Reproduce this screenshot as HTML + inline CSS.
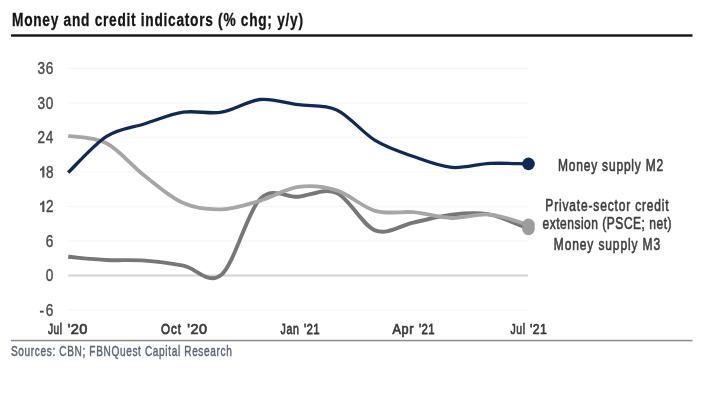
<!DOCTYPE html>
<html><head><meta charset="utf-8"><style>
html,body{margin:0;padding:0;background:#fff;width:708px;height:402px;overflow:hidden}
svg{display:block;font-family:"Liberation Sans", sans-serif;will-change:transform}
</style></head><body>
<svg width="708" height="402" viewBox="0 0 708 402">
<rect width="708" height="402" fill="#fff"/>
<g transform="translate(12.00,26.4) scale(0.78,1)"><text x="0" y="0" font-size="17.6" fill="#151515" stroke="#151515" stroke-width="0.3" font-weight="bold" textLength="373.08" lengthAdjust="spacing">Money and credit indicators (% chg; y/y)</text></g>
<rect x="11" y="34.3" width="681.5" height="2.4" fill="#161616"/>
<rect x="68.2" y="67.9" width="459.8" height="1.2" fill="#f5f5f5"/>
<rect x="68.2" y="102.4" width="459.8" height="1.2" fill="#f5f5f5"/>
<rect x="68.2" y="136.9" width="459.8" height="1.2" fill="#f5f5f5"/>
<rect x="68.2" y="171.4" width="459.8" height="1.2" fill="#f5f5f5"/>
<rect x="68.2" y="205.9" width="459.8" height="1.2" fill="#f5f5f5"/>
<rect x="68.2" y="240.4" width="459.8" height="1.2" fill="#f5f5f5"/>
<rect x="68.2" y="309.4" width="459.8" height="1.2" fill="#f5f5f5"/>
<rect x="68.2" y="274.5" width="459.8" height="2" fill="#d4d4d4"/>
<g transform="translate(37.40,74.0) scale(0.85,1)"><text x="0" y="0" font-size="16" fill="#4a4a4a" stroke="#4a4a4a" stroke-width="0.4" font-weight="normal" textLength="18.59" lengthAdjust="spacing">36</text></g>
<g transform="translate(37.40,108.5) scale(0.85,1)"><text x="0" y="0" font-size="16" fill="#4a4a4a" stroke="#4a4a4a" stroke-width="0.4" font-weight="normal" textLength="18.59" lengthAdjust="spacing">30</text></g>
<g transform="translate(37.40,143.0) scale(0.85,1)"><text x="0" y="0" font-size="16" fill="#4a4a4a" stroke="#4a4a4a" stroke-width="0.4" font-weight="normal" textLength="18.59" lengthAdjust="spacing">24</text></g>
<path d="M44.4 166.3 L44.4 177.5 L42.3 177.5 L42.3 169.7 Q41.3 170.5 40.0 170.9 L40.0 169.0 Q42.2 168.2 42.9 166.3 Z" fill="#505050"/>
<g transform="translate(46.10,177.5) scale(0.85,1)"><text x="0" y="0" font-size="16" fill="#4a4a4a" stroke="#4a4a4a" stroke-width="0.4" font-weight="normal" textLength="8.35" lengthAdjust="spacing">8</text></g>
<path d="M44.4 200.8 L44.4 212.0 L42.3 212.0 L42.3 204.2 Q41.3 205.0 40.0 205.4 L40.0 203.5 Q42.2 202.7 42.9 200.8 Z" fill="#505050"/>
<g transform="translate(46.10,212.0) scale(0.85,1)"><text x="0" y="0" font-size="16" fill="#4a4a4a" stroke="#4a4a4a" stroke-width="0.4" font-weight="normal" textLength="8.35" lengthAdjust="spacing">2</text></g>
<g transform="translate(45.80,246.5) scale(0.85,1)"><text x="0" y="0" font-size="16" fill="#4a4a4a" stroke="#4a4a4a" stroke-width="0.4" font-weight="normal" textLength="8.71" lengthAdjust="spacing">6</text></g>
<g transform="translate(45.80,281.0) scale(0.85,1)"><text x="0" y="0" font-size="16" fill="#4a4a4a" stroke="#4a4a4a" stroke-width="0.4" font-weight="normal" textLength="8.71" lengthAdjust="spacing">0</text></g>
<g transform="translate(39.60,315.5) scale(0.85,1)"><text x="0" y="0" font-size="16" fill="#4a4a4a" stroke="#4a4a4a" stroke-width="0.4" font-weight="normal" textLength="16.00" lengthAdjust="spacing">-6</text></g>
<g transform="translate(48.00,334) scale(0.6596000000000001,1)"><text x="0" y="0" font-size="15.4" fill="#3a3a3a" stroke="#3a3a3a" stroke-width="0.75" font-weight="normal" textLength="21.22" lengthAdjust="spacing">Jul</text></g>
<g transform="translate(67.50,334) scale(0.94575,1)"><text x="0" y="0" font-size="15.4" fill="#3a3a3a" stroke="#3a3a3a" stroke-width="0.75" font-weight="normal" textLength="21.04" lengthAdjust="spacing">'20</text></g>
<g transform="translate(161.00,334) scale(0.7566,1)"><text x="0" y="0" font-size="15.4" fill="#3a3a3a" stroke="#3a3a3a" stroke-width="0.75" font-weight="normal" textLength="26.30" lengthAdjust="spacing">Oct</text></g>
<g transform="translate(187.30,334) scale(0.9360499999999992,1)"><text x="0" y="0" font-size="15.4" fill="#3a3a3a" stroke="#3a3a3a" stroke-width="0.75" font-weight="normal" textLength="21.05" lengthAdjust="spacing">'20</text></g>
<g transform="translate(280.60,334) scale(0.6906399999999983,1)"><text x="0" y="0" font-size="15.4" fill="#3a3a3a" stroke="#3a3a3a" stroke-width="0.75" font-weight="normal" textLength="26.35" lengthAdjust="spacing">Jan</text></g>
<g transform="translate(303.90,334) scale(0.7420500000000005,1)"><text x="0" y="0" font-size="15.4" fill="#3a3a3a" stroke="#3a3a3a" stroke-width="0.75" font-weight="normal" textLength="21.16" lengthAdjust="spacing">'21</text></g>
<g transform="translate(392.60,334) scale(0.8244999999999991,1)"><text x="0" y="0" font-size="15.4" fill="#3a3a3a" stroke="#3a3a3a" stroke-width="0.75" font-weight="normal" textLength="25.23" lengthAdjust="spacing">Apr</text></g>
<g transform="translate(418.90,334) scale(0.7420500000000005,1)"><text x="0" y="0" font-size="15.4" fill="#3a3a3a" stroke="#3a3a3a" stroke-width="0.75" font-weight="normal" textLength="21.16" lengthAdjust="spacing">'21</text></g>
<g transform="translate(510.60,334) scale(0.6789999999999999,1)"><text x="0" y="0" font-size="15.4" fill="#3a3a3a" stroke="#3a3a3a" stroke-width="0.75" font-weight="normal" textLength="21.21" lengthAdjust="spacing">Jul</text></g>
<g transform="translate(530.00,334) scale(0.7953999999999989,1)"><text x="0" y="0" font-size="15.4" fill="#3a3a3a" stroke="#3a3a3a" stroke-width="0.75" font-weight="normal" textLength="21.12" lengthAdjust="spacing">'21</text></g>
<rect x="11" y="339.8" width="681.5" height="1.5" fill="#8a8a8a"/>
<g transform="translate(11.00,355.9) scale(0.72,1)"><text x="0" y="0" font-size="14" fill="#5c6479" stroke="#5c6479" stroke-width="0.45" font-weight="normal" textLength="306.67" lengthAdjust="spacing">Sources: CBN; FBNQuest Capital Research</text></g>
<path d="M68.2 256.8 C74.6 257.3 93.8 259.4 106.6 260.0 C119.3 260.6 132.1 259.6 144.9 260.6 C157.7 261.5 170.5 263.4 183.3 265.7 C196.1 268.1 208.8 285.8 221.6 274.6 C234.4 263.5 247.2 212.0 260.0 199.0 C272.8 186.0 285.6 197.7 298.3 196.7 C311.1 195.7 323.9 187.4 336.7 193.0 C349.5 198.6 362.3 225.4 375.1 230.4 C387.8 235.3 400.6 225.2 413.4 222.6 C426.2 220.0 439.0 215.9 451.8 214.6 C464.6 213.2 477.4 212.2 490.1 214.6 C502.9 216.9 522.1 226.5 528.5 228.9" fill="none" stroke="#777777" stroke-width="3.9" stroke-linecap="butt" stroke-linejoin="round"/>
<circle cx="528.5" cy="228.9" r="6.3" fill="#9c9c9c"/>
<path d="M68.2 135.8 C74.6 137.0 93.8 136.5 106.6 143.2 C119.3 150.0 132.1 166.1 144.9 176.0 C157.7 186.0 170.5 197.5 183.3 203.1 C196.1 208.6 208.8 209.8 221.6 209.4 C234.4 209.0 247.2 204.5 260.0 200.8 C272.8 197.0 285.6 188.7 298.3 186.9 C311.1 185.2 323.9 186.4 336.7 190.4 C349.5 194.4 362.3 207.2 375.1 210.8 C387.8 214.5 400.6 211.1 413.4 212.2 C426.2 213.4 439.0 217.6 451.8 218.0 C464.6 218.4 477.4 213.4 490.1 214.6 C502.9 215.7 522.1 223.2 528.5 224.9" fill="none" stroke="#a6a6a6" stroke-width="3.8" stroke-linecap="butt" stroke-linejoin="round"/>
<circle cx="528.5" cy="224.9" r="6.3" fill="#9c9c9c"/>
<path d="M68.2 172.6 C74.6 166.5 93.8 144.5 106.6 136.3 C119.3 128.2 132.1 127.7 144.9 123.7 C157.7 119.7 170.5 114.1 183.3 112.2 C196.1 110.3 208.8 114.3 221.6 112.2 C234.4 110.1 247.2 100.8 260.0 99.5 C272.8 98.3 285.6 103.0 298.3 104.7 C311.1 106.5 323.9 104.0 336.7 109.9 C349.5 115.8 362.3 132.6 375.1 140.4 C387.8 148.1 400.6 152.0 413.4 156.5 C426.2 161.0 439.0 166.2 451.8 167.4 C464.6 168.5 477.4 163.9 490.1 163.4 C502.9 162.8 522.1 163.9 528.5 163.9" fill="none" stroke="#0f2b55" stroke-width="3.3" stroke-linecap="butt" stroke-linejoin="round"/>
<circle cx="528.5" cy="163.9" r="6.3" fill="#0f2b55"/>
<g transform="translate(557.90,170.9) scale(0.75,1)"><text x="0" y="0" font-size="16" fill="#3d3d3d" stroke="#3d3d3d" stroke-width="0.6" font-weight="normal" textLength="140.53" lengthAdjust="spacing">Money supply M2</text></g>
<g transform="translate(545.30,210.5) scale(0.75,1)"><text x="0" y="0" font-size="16" fill="#3d3d3d" stroke="#3d3d3d" stroke-width="0.6" font-weight="normal" textLength="164.53" lengthAdjust="spacing">Private-sector credit</text></g>
<g transform="translate(542.45,228.9) scale(0.75,1)"><text x="0" y="0" font-size="16" fill="#3d3d3d" stroke="#3d3d3d" stroke-width="0.6" font-weight="normal" textLength="172.13" lengthAdjust="spacing">extension (PSCE; net)</text></g>
<g transform="translate(553.85,249.5) scale(0.75,1)"><text x="0" y="0" font-size="16" fill="#3d3d3d" stroke="#3d3d3d" stroke-width="0.6" font-weight="normal" textLength="141.73" lengthAdjust="spacing">Money supply M3</text></g>
</svg>
</body></html>
